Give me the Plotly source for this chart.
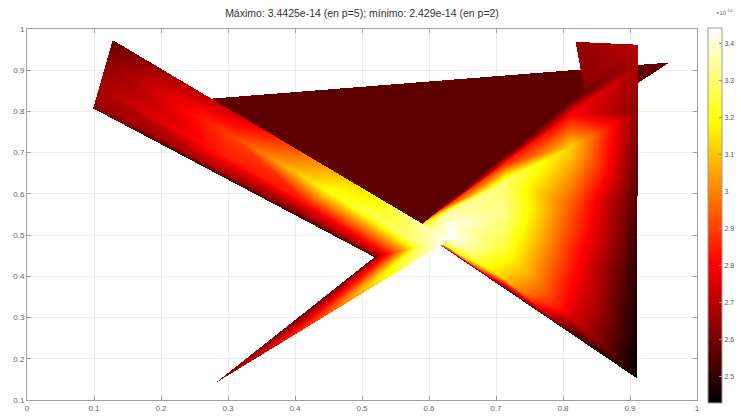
import numpy as np
import plotly.graph_objects as go

# ---- mesh data: patch corners (x, y) and nodal values (units of 1e-14) ----
pt_A = (0.128, 0.973)
pt_B = (0.099, 0.808)
pt_C = (0.631, 0.488)
pt_D = (0.519, 0.447)
pt_E = (0.281, 0.141)
pt_F = (0.910, 0.153)
pt_G = (0.912, 0.961)
pt_H = (0.819, 0.968)
pt_J = (0.957, 0.918)
pt_Q = (0.581, 0.515)

# back triangle B-J-D
back_u = [0.0, 1.0]
back_v = [0.0, 1.0]
back_vals = [[2.565, 2.565],
             [2.565, 2.565]]

# top triangle H-G-F
top_u = [0.0, 1.0]
top_v = [0.0, 1.0]
top_vals = [[2.64, 2.70],
            [2.60, 2.60]]

# right triangle Q-G-F (v: from Q to edge G-F, u: from G to F)
right_u = [0.0, 0.06, 0.2, 0.45, 0.7, 0.93, 1.0]
right_v = [0.0, 0.15, 0.4, 0.7, 1.0]
right_vals = [[3.20, 3.20, 3.20, 3.20, 3.20, 3.20, 3.20],
              [2.55, 2.90, 3.35, 3.42, 3.44, 3.25, 2.62],
              [2.55, 2.85, 3.30, 3.32, 3.24, 3.10, 2.55],
              [2.58, 2.80, 3.12, 2.94, 2.85, 2.76, 2.52],
              [2.70, 2.68, 2.63, 2.55, 2.48, 2.44, 2.43]]

# band A-C (top edge) / B-D (bottom edge)
band_u = [0.0, 0.4, 0.7, 1.0]
band_v = [0.0, 0.35, 0.7, 0.92, 1.0]
band_vals = [[2.57, 2.76, 3.12, 3.4425],
             [2.64, 2.90, 3.20, 3.33],
             [2.68, 2.84, 2.85, 2.95],
             [2.66, 2.70, 2.65, 2.72],
             [2.62, 2.55, 2.54, 2.58]]

# spike D-C (base) to E (tip)
spike_u = [0.0, 0.08, 0.3, 0.65, 1.0]
spike_v = [0.0, 0.5, 1.0]
spike_vals = [[2.58, 2.72, 2.95, 3.33, 3.4425],
              [2.56, 2.62, 2.70, 2.86, 2.96],
              [2.62, 2.62, 2.62, 2.62, 2.62]]

c_min, c_max = 2.429, 3.4425
x_ticks = [0, 0.1, 0.2, 0.3, 0.4, 0.5, 0.6, 0.7, 0.8, 0.9, 1]
y_ticks = [0.1, 0.2, 0.3, 0.4, 0.5, 0.6, 0.7, 0.8, 0.9, 1]
cb_ticks = [2.5, 2.6, 2.7, 2.8, 2.9, 3.0, 3.1, 3.2, 3.3, 3.4]

# ---- rasterise the interpolated patches onto a pixel grid ----
X0, X1, Y0, Y1 = 0.0, 1.0, 0.1, 1.0
NX, NY = 670, 371
xc = X0 + (np.arange(NX) + 0.5) / NX * (X1 - X0)
yc = Y0 + (np.arange(NY) + 0.5) / NY * (Y1 - Y0)
Z = np.full((NY, NX), np.nan)
dx = (X1 - X0) / NX
dy = (Y1 - Y0) / NY


def fill_tri(p1, p2, p3):
    (x1, y1, v1), (x2, y2, v2), (x3, y3, v3) = p1, p2, p3
    den = (y2 - y3) * (x1 - x3) + (x3 - x2) * (y1 - y3)
    if abs(den) < 1e-12:
        return
    i0 = max(int(np.floor((min(x1, x2, x3) - X0) / dx)) - 1, 0)
    i1 = min(int(np.ceil((max(x1, x2, x3) - X0) / dx)) + 1, NX)
    j0 = max(int(np.floor((min(y1, y2, y3) - Y0) / dy)) - 1, 0)
    j1 = min(int(np.ceil((max(y1, y2, y3) - Y0) / dy)) + 1, NY)
    if i1 <= i0 or j1 <= j0:
        return
    gx, gy = np.meshgrid(xc[i0:i1], yc[j0:j1])
    l1 = ((y2 - y3) * (gx - x3) + (x3 - x2) * (gy - y3)) / den
    l2 = ((y3 - y1) * (gx - x3) + (x1 - x3) * (gy - y3)) / den
    l3 = 1 - l1 - l2
    eps = -1e-3
    m = (l1 >= eps) & (l2 >= eps) & (l3 >= eps)
    sub = Z[j0:j1, i0:i1]
    sub[m] = (l1 * v1 + l2 * v2 + l3 * v3)[m]


def paint(corners, us, vs, vals):
    P00, P10, P01, P11 = [np.array(c, dtype=float) for c in corners]
    U, V = np.meshgrid(np.array(us), np.array(vs))
    w00, w10, w01, w11 = (1 - U) * (1 - V), U * (1 - V), (1 - U) * V, U * V
    px = w00 * P00[0] + w10 * P10[0] + w01 * P01[0] + w11 * P11[0]
    py = w00 * P00[1] + w10 * P10[1] + w01 * P01[1] + w11 * P11[1]
    val = np.array(vals, dtype=float)
    nv, nu = val.shape
    node = lambda j, i: (px[j, i], py[j, i], val[j, i])
    for j in range(nv - 1):
        for i in range(nu - 1):
            a, b, c, d = node(j, i), node(j, i + 1), node(j + 1, i), node(j + 1, i + 1)
            fill_tri(a, b, d)
            fill_tri(a, d, c)


paint((pt_B, pt_J, pt_D, pt_D), back_u, back_v, back_vals)
paint((pt_H, pt_G, pt_F, pt_F), top_u, top_v, top_vals)
paint((pt_Q, pt_Q, pt_G, pt_F), right_u, right_v, right_vals)
paint((pt_A, pt_C, pt_B, pt_D), band_u, band_v, band_vals)
paint((pt_D, pt_C, pt_E, pt_E), spike_u, spike_v, spike_vals)

hot = [[0.0, "rgb(3,0,0)"], [0.3725, "rgb(255,0,0)"],
       [0.749, "rgb(255,255,0)"], [1.0, "rgb(255,255,255)"]]

fig = go.Figure(go.Heatmap(
    x=xc, y=yc, z=Z.astype(np.float32),
    colorscale=hot, zmin=c_min, zmax=c_max, zsmooth=False,
    hoverinfo="skip",
    colorbar=dict(
        x=1.0164, xanchor="left", xpad=0,
        y=0.497, yanchor="middle", lenmode="pixels", len=375, ypad=0,
        thickness=14, thicknessmode="pixels",
        outlinewidth=1, outlinecolor="#9a9a9a",
        tickvals=cb_ticks,
        ticktext=[("%g" % t) for t in cb_ticks],
        ticks="inside", ticklen=3, tickcolor="#8a8a8a",
        tickfont=dict(family="Liberation Sans, Arial", size=7, color="#555555"),
    ),
))

axis_common = dict(
    showgrid=True, gridcolor="#ececec", gridwidth=1,
    showline=True, linecolor="#a0a0a0", linewidth=1, mirror="ticks",
    ticks="inside", ticklen=4, tickcolor="#a0a0a0",
    tickfont=dict(family="Liberation Sans, Arial", size=8, color="#666666"),
    zeroline=False,
)

fig.update_layout(
    width=741, height=416,
    margin=dict(l=27, r=44, t=29, b=16, autoexpand=False),
    paper_bgcolor="white", plot_bgcolor="white",
    title=dict(
        text="Máximo: 3.4425e-14 (en p=5); mínimo: 2.429e-14 (en p=2)",
        x=0.5, xref="paper", xanchor="center",
        y=1 - 13 / 416, yref="container", yanchor="middle",
        font=dict(family="Liberation Sans, Arial", size=10.5, color="#333333"),
    ),
    xaxis=dict(range=[X0, X1], tickvals=x_ticks, automargin=False,
               ticktext=[("%g" % t) for t in x_ticks], **axis_common),
    yaxis=dict(range=[Y0, Y1], tickvals=y_ticks, automargin=False,
               ticktext=[("%g" % t) for t in y_ticks], **axis_common),
    annotations=[dict(
        text="×10<sup>-14</sup>", xref="paper", yref="paper",
        x=1.026, y=1.03, xanchor="left", yanchor="bottom", showarrow=False,
        font=dict(family="Liberation Sans, Arial", size=6, color="#666666"),
    )],
)

fig.write_html("out.html")
